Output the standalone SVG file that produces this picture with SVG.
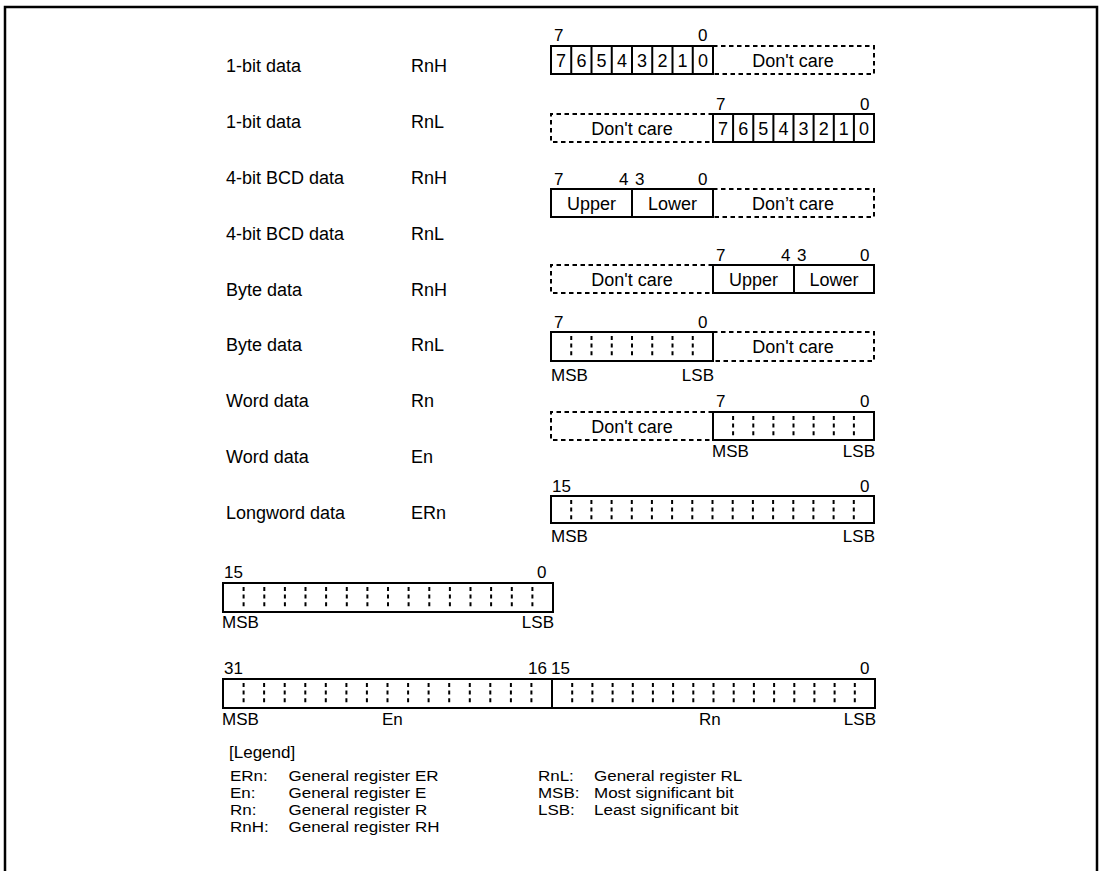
<svg xmlns="http://www.w3.org/2000/svg" width="1102" height="871" viewBox="0 0 1102 871">
<style>
text{font-family:"Liberation Sans",Arial,Helvetica,sans-serif;font-size:18px;fill:#000}
.n{font-size:17px}
.lg{font-size:15.5px}
.m{text-anchor:middle}
.e{text-anchor:end}
.box{fill:none;stroke:#000;stroke-width:2}
.dash{fill:none;stroke:#000;stroke-width:2;stroke-dasharray:4.5 3.5}
.dot{fill:none;stroke:#000;stroke-width:2;stroke-dasharray:4 3.6}
.frame{fill:none;stroke:#000;stroke-width:2.5}
</style>
<rect width="1102" height="871" fill="#fff"/>
<path class="frame" d="M5,871 V7 H1097 V871"/>

<g id="labels">
<text x="226" y="72">1-bit data</text><text x="411" y="72">RnH</text>
<text x="226" y="128">1-bit data</text><text x="411" y="128">RnL</text>
<text x="226" y="184">4-bit BCD data</text><text x="411" y="184">RnH</text>
<text x="226" y="240">4-bit BCD data</text><text x="411" y="240">RnL</text>
<text x="226" y="296">Byte data</text><text x="411" y="296">RnH</text>
<text x="226" y="351">Byte data</text><text x="411" y="351">RnL</text>
<text x="226" y="407">Word data</text><text x="411" y="407">Rn</text>
<text x="226" y="463">Word data</text><text x="411" y="463">En</text>
<text x="226" y="519">Longword data</text><text x="411" y="519">ERn</text>
</g>

<g id="row-1bit-h">
<text class="n" x="554" y="41">7</text><text class="n" x="698" y="41">0</text>
<rect class="box" x="551" y="46" width="162" height="28"/>
<path class="box" d="M571.25,46V74M591.5,46V74M611.75,46V74M632,46V74M652.25,46V74M672.5,46V74M692.75,46V74"/>
<text class="m" x="561.1" y="67">7</text><text class="m" x="581.4" y="67">6</text><text class="m" x="601.6" y="67">5</text><text class="m" x="621.9" y="67">4</text><text class="m" x="642.1" y="67">3</text><text class="m" x="662.4" y="67">2</text><text class="m" x="682.6" y="67">1</text><text class="m" x="702.9" y="67">0</text>
<path class="dash" d="M713,46H874V74H713"/>
<text class="m" x="793" y="67">Don't care</text>
</g>

<g id="row-1bit-l">
<text class="n" x="716" y="110">7</text><text class="n" x="860" y="110">0</text>
<rect class="box" x="713" y="114" width="161" height="28"/>
<path class="box" d="M733.1,114V142M753.3,114V142M773.4,114V142M793.5,114V142M813.6,114V142M833.8,114V142M853.9,114V142"/>
<text class="m" x="723.1" y="135">7</text><text class="m" x="743.2" y="135">6</text><text class="m" x="763.3" y="135">5</text><text class="m" x="783.4" y="135">4</text><text class="m" x="803.6" y="135">3</text><text class="m" x="823.7" y="135">2</text><text class="m" x="843.8" y="135">1</text><text class="m" x="863.9" y="135">0</text>
<path class="dash" d="M713,114H551V142H713"/>
<text class="m" x="632" y="135">Don't care</text>
</g>

<g id="row-bcd-h">
<text class="n" x="554" y="185">7</text><text class="n" x="619" y="185">4</text><text class="n" x="635" y="185">3</text><text class="n" x="698" y="185">0</text>
<rect class="box" x="551" y="189" width="162" height="28"/>
<path class="box" d="M632,189V217"/>
<text class="m" x="591.5" y="210">Upper</text><text class="m" x="672.5" y="210">Lower</text>
<path class="dash" d="M713,189H874V217H713"/>
<text class="m" x="793" y="210">Don’t care</text>
</g>

<g id="row-bcd-l">
<text class="n" x="716" y="261">7</text><text class="n" x="781" y="261">4</text><text class="n" x="797" y="261">3</text><text class="n" x="860" y="261">0</text>
<rect class="box" x="713" y="265" width="161" height="28"/>
<path class="box" d="M794,265V293"/>
<text class="m" x="753.5" y="286">Upper</text><text class="m" x="834" y="286">Lower</text>
<path class="dash" d="M713,265H551V293H713"/>
<text class="m" x="632" y="286">Don't care</text>
</g>

<g id="row-byte-h">
<text class="n" x="554" y="328">7</text><text class="n" x="698" y="328">0</text>
<rect class="box" x="551" y="332" width="162" height="29"/>
<path class="dot" d="M571.25,336V358M591.5,336V358M611.75,336V358M632,336V358M652.25,336V358M672.5,336V358M692.75,336V358"/>
<path class="dash" d="M713,332H874V361H713"/>
<text class="m" x="793" y="353">Don't care</text>
<text class="n" x="551" y="381">MSB</text><text class="n e" x="714" y="381">LSB</text>
</g>

<g id="row-byte-l">
<text class="n" x="716" y="407">7</text><text class="n" x="860" y="407">0</text>
<rect class="box" x="713" y="412" width="161" height="28"/>
<path class="dot" d="M733.1,416V437M753.3,416V437M773.4,416V437M793.5,416V437M813.6,416V437M833.8,416V437M853.9,416V437"/>
<path class="dash" d="M713,412H551V440H713"/>
<text class="m" x="632" y="433">Don't care</text>
<text class="n" x="712" y="457">MSB</text><text class="n e" x="875" y="457">LSB</text>
</g>

<g id="row-longword">
<text class="n" x="552" y="492">15</text><text class="n" x="860" y="492">0</text>
<rect class="box" x="551" y="496" width="323" height="27"/>
<path class="dot" d="M571.2,500V520M591.4,500V520M611.6,500V520M631.8,500V520M651.9,500V520M672.1,500V520M692.3,500V520M712.5,500V520M732.7,500V520M752.9,500V520M773.1,500V520M793.3,500V520M813.4,500V520M833.6,500V520M853.8,500V520"/>
<text class="n" x="551" y="542">MSB</text><text class="n e" x="875" y="542">LSB</text>
</g>

<g id="reg-word">
<text class="n" x="224" y="578">15</text><text class="n" x="537" y="578">0</text>
<rect class="box" x="223" y="583" width="330" height="29"/>
<path class="dot" d="M243.6,587V609M264.3,587V609M284.9,587V609M305.5,587V609M326.1,587V609M346.8,587V609M367.4,587V609M388,587V609M408.6,587V609M429.3,587V609M449.9,587V609M470.5,587V609M491.1,587V609M511.8,587V609M532.4,587V609"/>
<text class="n" x="222" y="628">MSB</text><text class="n e" x="554" y="628">LSB</text>
</g>

<g id="reg-long">
<text class="n" x="224" y="674">31</text><text class="n" x="528" y="674">16</text><text class="n" x="551" y="674">15</text><text class="n" x="860" y="674">0</text>
<rect class="box" x="223" y="679" width="652" height="29"/>
<path class="box" d="M552,679V708"/>
<path class="dot" d="M243.6,683V705M264.1,683V705M284.7,683V705M305.3,683V705M325.8,683V705M346.4,683V705M366.9,683V705M387.5,683V705M408.1,683V705M428.6,683V705M449.2,683V705M469.8,683V705M490.3,683V705M510.9,683V705M531.4,683V705M572.2,683V705M592.4,683V705M612.6,683V705M632.8,683V705M652.9,683V705M673.1,683V705M693.3,683V705M713.5,683V705M733.7,683V705M753.9,683V705M774.1,683V705M794.3,683V705M814.4,683V705M834.6,683V705M854.8,683V705"/>
<text class="n" x="222" y="725">MSB</text><text class="n" x="382" y="725">En</text><text class="n" x="699" y="725">Rn</text><text class="n e" x="876" y="725">LSB</text>
</g>

<g id="legend">
<text class="n" x="229" y="758">[Legend]</text>
<g transform="scale(1.097 1)">
<text class="lg" x="209.7" y="781">ERn:</text><text class="lg" x="263" y="781">General register ER</text>
<text class="lg" x="209.7" y="798">En:</text><text class="lg" x="263" y="798">General register E</text>
<text class="lg" x="209.7" y="815">Rn:</text><text class="lg" x="263" y="815">General register R</text>
<text class="lg" x="209.7" y="832">RnH:</text><text class="lg" x="263" y="832">General register RH</text>
<text class="lg" x="490.4" y="781">RnL:</text><text class="lg" x="541.5" y="781">General register RL</text>
<text class="lg" x="490.4" y="798">MSB:</text><text class="lg" x="541.5" y="798">Most significant bit</text>
<text class="lg" x="490.4" y="815">LSB:</text><text class="lg" x="541.5" y="815">Least significant bit</text>
</g>
</g>
</svg>
